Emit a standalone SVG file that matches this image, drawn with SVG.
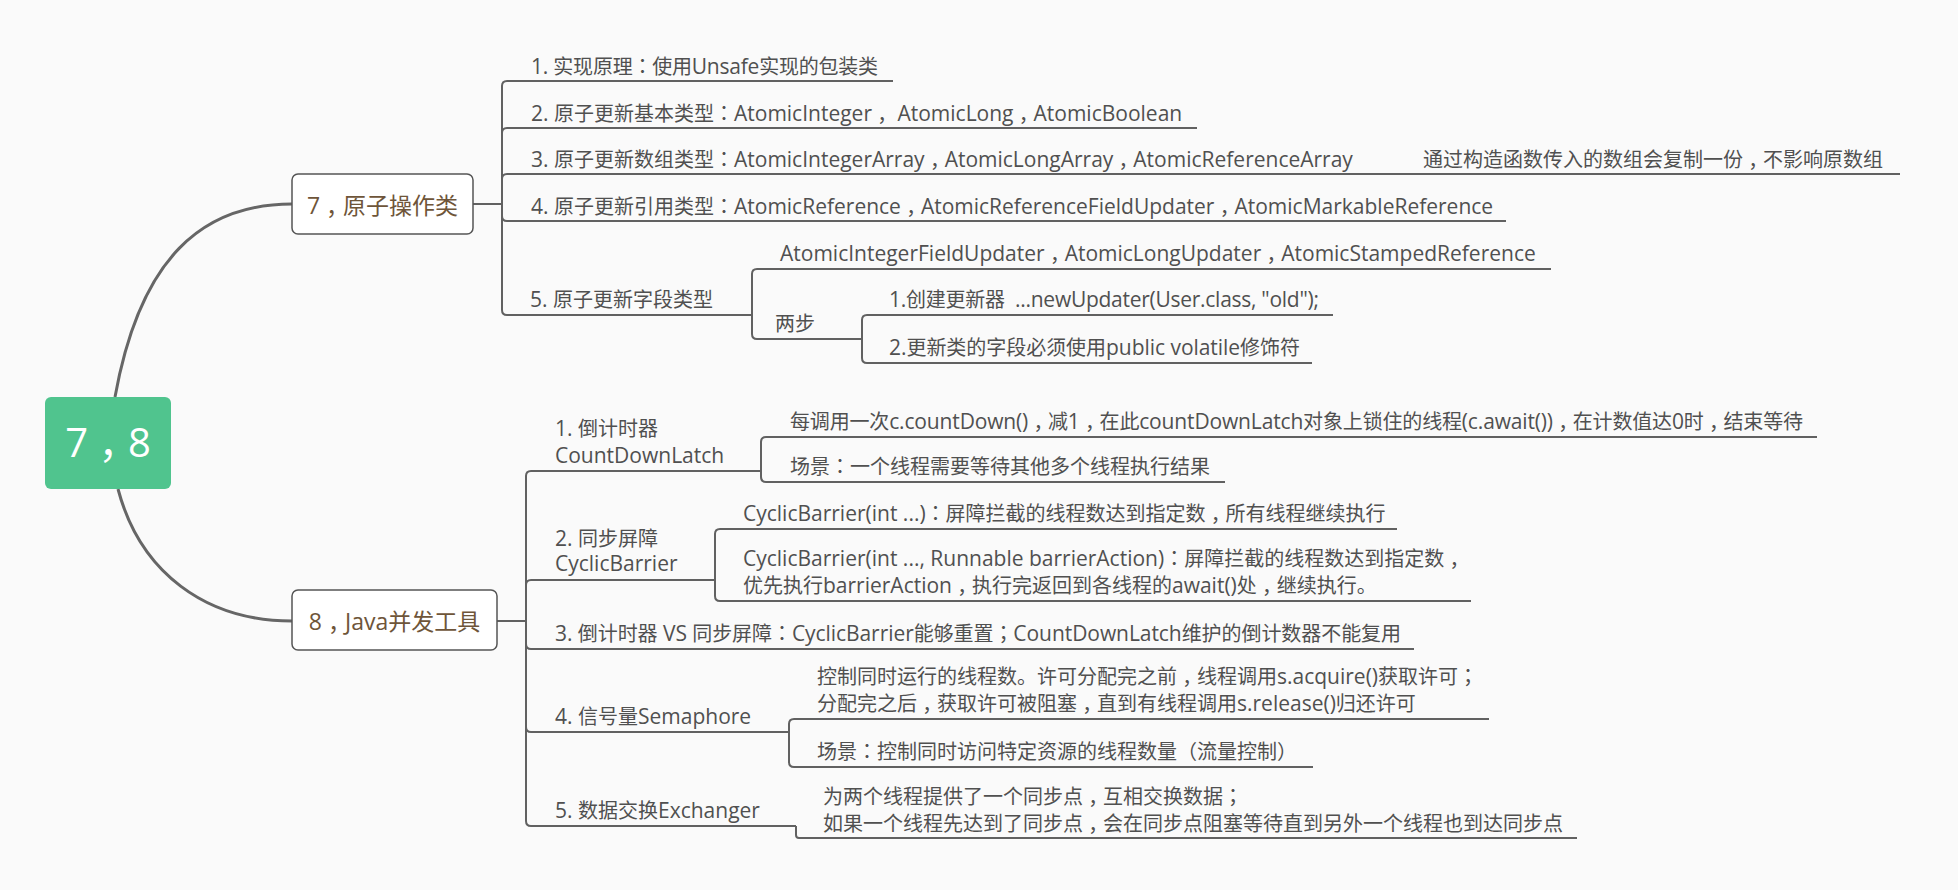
<svg xmlns="http://www.w3.org/2000/svg" width="1958" height="890" viewBox="0 0 1958 890">
<style>
.t{font-family:"Open Sans","Noto Sans CJK SC",sans-serif;font-size:20px;fill:#505050}
.l{font-size:21px}
.p{font-family:"Noto Sans CJK TC",sans-serif}
.n{font-family:"Open Sans","Noto Sans CJK SC",sans-serif;font-size:23px;fill:#6E5539;text-anchor:middle}
.box{fill:#FFFFFF;stroke:#555555;stroke-width:1.5}
.c{fill:none;stroke:#616161;stroke-width:2}
.m{fill:none;stroke:#666666;stroke-width:3}
</style>
<rect width="1958" height="890" fill="#FAFAFA"/>
<g id="connectors">
<path class="m" d="M115,397 C140,258 202,204 292,204"/>
<path class="m" d="M118,489 C140,572 205,621 292,621"/>
<path class="c" d="M473,204 H502 V86 Q502,81 507,81 H893"/>
<path class="c" d="M502,204 V133 Q502,128 507,128 H1197"/>
<path class="c" d="M502,204 V179 Q502,174 507,174 H1372"/>
<path class="c" d="M1372,174 H1900"/>
<path class="c" d="M502,204 V216 Q502,221 507,221 H1506"/>
<path class="c" d="M502,204 V310 Q502,315 507,315 H752"/>
<path class="c" d="M752,315 V274 Q752,269 757,269 H1551"/>
<path class="c" d="M752,315 V334 Q752,339 757,339 H862"/>
<path class="c" d="M862,339 V320 Q862,315 867,315 H1333"/>
<path class="c" d="M862,339 V358 Q862,363 867,363 H1312"/>
<path class="c" d="M497,621 H526 V476 Q526,471 531,471 H761"/>
<path class="c" d="M761,471 V442 Q761,437 766,437 H1817"/>
<path class="c" d="M761,471 V477 Q761,482 766,482 H1225"/>
<path class="c" d="M526,621 V585 Q526,580 531,580 H715"/>
<path class="c" d="M715,580 V534 Q715,529 720,529 H1397"/>
<path class="c" d="M715,580 V596 Q715,601 720,601 H1471"/>
<path class="c" d="M526,621 V644 Q526,649 531,649 H1414"/>
<path class="c" d="M526,621 V727 Q526,732 531,732 H789"/>
<path class="c" d="M789,732 V724 Q789,719 794,719 H1489"/>
<path class="c" d="M789,732 V762 Q789,767 794,767 H1313"/>
<path class="c" d="M526,621 V821 Q526,826 531,826 H796"/>
<path class="c" d="M796,826 V835 Q796,838 799,838 H1577"/>
</g>
<g id="root">
<rect x="45" y="397" width="126" height="92" rx="6" fill="#50C48E"/>
<text x="108" y="457" font-family="Open Sans,Noto Sans CJK SC,sans-serif" font-size="40" fill="#FFFFFF" text-anchor="middle">7<tspan class="p" dy="13">，</tspan><tspan dy="-13">8</tspan></text>
</g>
<g id="node7">
<rect class="box" x="292" y="174" width="181" height="60" rx="6"/>
<text class="n" x="382.5" y="214">7<tspan class="p" dy="7.5">，</tspan><tspan dy="-7.5">原子操作类</tspan></text>
</g>
<g id="node8">
<rect class="box" x="292" y="590" width="205" height="60" rx="6"/>
<text class="n" x="394.5" y="630">8<tspan class="p" dy="7.5">，</tspan><tspan dy="-7.5">Java并发工具</tspan></text>
</g>
<g id="n7-1"><text class="t" x="531" y="74" textLength="347"><tspan class="l">1. </tspan>实现原理<tspan class="p">：</tspan>使用<tspan class="l">Unsafe</tspan>实现的包装类</text></g>
<g id="n7-2"><text class="t" x="531" y="121"><tspan class="l">2. </tspan>原子更新基本类型<tspan class="p">：</tspan><tspan class="l">AtomicInteger</tspan><tspan class="p" dy="6.5">，</tspan><tspan class="l" dy="-6.5"> AtomicLong</tspan><tspan class="p" dy="6.5">，</tspan><tspan class="l" dy="-6.5">AtomicBoolean</tspan></text></g>
<g id="n7-3"><text class="t" x="531" y="167"><tspan class="l">3. </tspan>原子更新数组类型<tspan class="p">：</tspan><tspan class="l">AtomicIntegerArray</tspan><tspan class="p" dy="6.5">，</tspan><tspan class="l" dy="-6.5">AtomicLongArray</tspan><tspan class="p" dy="6.5">，</tspan><tspan class="l" dy="-6.5">AtomicReferenceArray</tspan></text></g>
<g id="n7-3a"><text class="t" x="1423" y="167">通过构造函数传入的数组会复制一份<tspan class="p" dy="6.5">，</tspan><tspan dy="-6.5">不影响原数组</tspan></text></g>
<g id="n7-4"><text class="t" x="531" y="214"><tspan class="l">4. </tspan>原子更新引用类型<tspan class="p">：</tspan><tspan class="l">AtomicReference</tspan><tspan class="p" dy="6.5">，</tspan><tspan class="l" dy="-6.5">AtomicReferenceFieldUpdater</tspan><tspan class="p" dy="6.5">，</tspan><tspan class="l" dy="-6.5">AtomicMarkableReference</tspan></text></g>
<g id="n7-5"><text class="t" x="530" y="307"><tspan class="l">5. </tspan>原子更新字段类型</text></g>
<g id="n7-5a"><text class="t" x="780" y="261"><tspan class="l">AtomicIntegerFieldUpdater</tspan><tspan class="p" dy="6.5">，</tspan><tspan class="l" dy="-6.5">AtomicLongUpdater</tspan><tspan class="p" dy="6.5">，</tspan><tspan class="l" dy="-6.5">AtomicStampedReference</tspan></text></g>
<g id="n7-5b"><text class="t" x="775" y="331">两步</text></g>
<g id="n7-5b1"><text class="t" x="889" y="307" textLength="430" xml:space="preserve"><tspan class="l">1.</tspan>创建更新器<tspan class="l">  ...newUpdater(User.class, "old");</tspan></text></g>
<g id="n7-5b2"><text class="t" x="889" y="355" textLength="411"><tspan class="l">2.</tspan>更新类的字段必须使用<tspan class="l">public volatile</tspan>修饰符</text></g>
<g id="n8-1"><text class="t" x="555" y="436"><tspan class="l">1. </tspan>倒计时器</text><text class="t" x="555" y="463"><tspan class="l">CountDownLatch</tspan></text></g>
<g id="n8-1a"><text class="t" x="790" y="429" textLength="1013">每调用一次<tspan class="l">c.countDown()</tspan><tspan class="p" dy="6.5">，</tspan><tspan dy="-6.5">减</tspan><tspan class="l">1</tspan><tspan class="p" dy="6.5">，</tspan><tspan dy="-6.5">在此</tspan><tspan class="l">countDownLatch</tspan>对象上锁住的线程<tspan class="l">(c.await())</tspan><tspan class="p" dy="6.5">，</tspan><tspan dy="-6.5">在计数值达</tspan><tspan class="l">0</tspan>时<tspan class="p" dy="6.5">，</tspan><tspan dy="-6.5">结束等待</tspan></text></g>
<g id="n8-1b"><text class="t" x="790" y="474">场景<tspan class="p">：</tspan>一个线程需要等待其他多个线程执行结果</text></g>
<g id="n8-2"><text class="t" x="555" y="546"><tspan class="l">2. </tspan>同步屏障</text><text class="t" x="555" y="571"><tspan class="l">CyclicBarrier</tspan></text></g>
<g id="n8-2a"><text class="t" x="743" y="521"><tspan class="l">CyclicBarrier(int ...)</tspan><tspan class="p">：</tspan>屏障拦截的线程数达到指定数<tspan class="p" dy="6.5">，</tspan><tspan dy="-6.5">所有线程继续执行</tspan></text></g>
<g id="n8-2b"><text class="t" x="743" y="566"><tspan class="l">CyclicBarrier(int ..., Runnable barrierAction)</tspan><tspan class="p">：</tspan>屏障拦截的线程数达到指定数<tspan class="p" dy="6.5">，</tspan></text><text class="t" x="743" y="593">优先执行<tspan class="l">barrierAction</tspan><tspan class="p" dy="6.5">，</tspan><tspan dy="-6.5">执行完返回到各线程的</tspan><tspan class="l">await()</tspan>处<tspan class="p" dy="6.5">，</tspan><tspan dy="-6.5">继续执行。</tspan></text></g>
<g id="n8-3"><text class="t" x="555" y="641" textLength="846"><tspan class="l">3. </tspan>倒计时器<tspan class="l"> VS </tspan>同步屏障<tspan class="p">：</tspan><tspan class="l">CyclicBarrier</tspan>能够重置<tspan class="p">；</tspan><tspan class="l">CountDownLatch</tspan>维护的倒计数器不能复用</text></g>
<g id="n8-4"><text class="t" x="555" y="724"><tspan class="l">4. </tspan>信号量<tspan class="l">Semaphore</tspan></text></g>
<g id="n8-4a"><text class="t" x="817" y="684">控制同时运行的线程数。许可分配完之前<tspan class="p" dy="6.5">，</tspan><tspan dy="-6.5">线程调用</tspan><tspan class="l">s.acquire()</tspan>获取许可<tspan class="p">；</tspan></text><text class="t" x="817" y="711">分配完之后<tspan class="p" dy="6.5">，</tspan><tspan dy="-6.5">获取许可被阻塞</tspan><tspan class="p" dy="6.5">，</tspan><tspan dy="-6.5">直到有线程调用</tspan><tspan class="l">s.release()</tspan>归还许可</text></g>
<g id="n8-4b"><text class="t" x="817" y="759">场景<tspan class="p">：</tspan>控制同时访问特定资源的线程数量<tspan class="p">（</tspan>流量控制<tspan class="p">）</tspan></text></g>
<g id="n8-5"><text class="t" x="555" y="818"><tspan class="l">5. </tspan>数据交换<tspan class="l">Exchanger</tspan></text></g>
<g id="n8-5a"><text class="t" x="823" y="804">为两个线程提供了一个同步点<tspan class="p" dy="6.5">，</tspan><tspan dy="-6.5">互相交换数据</tspan><tspan class="p">；</tspan></text><text class="t" x="823" y="831">如果一个线程先达到了同步点<tspan class="p" dy="6.5">，</tspan><tspan dy="-6.5">会在同步点阻塞等待直到另外一个线程也到达同步点</tspan></text></g>
</svg>
